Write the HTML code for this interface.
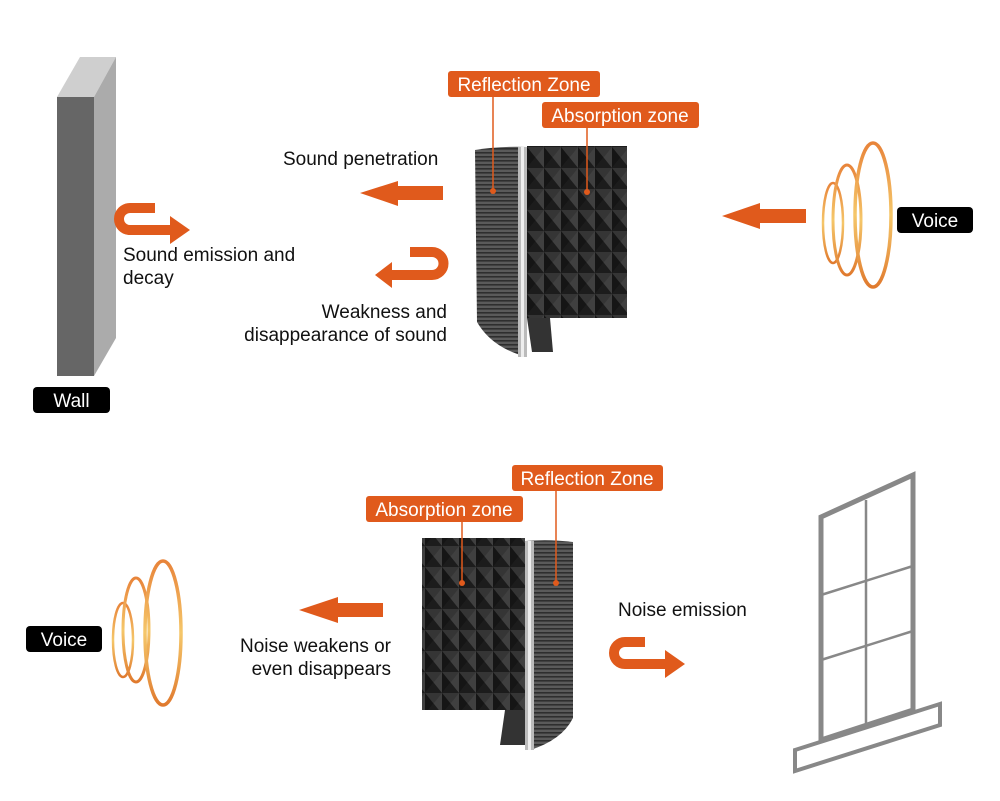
<!DOCTYPE html>
<html><head><meta charset="utf-8"><style>
html,body{margin:0;padding:0;background:#fff;}
svg{display:block;}
text{font-family:"Liberation Sans",Arial,sans-serif;}
</style></head><body>
<svg width="1000" height="801" viewBox="0 0 1000 801" xmlns="http://www.w3.org/2000/svg">
<defs>
<pattern id="foam" width="17" height="21" patternUnits="userSpaceOnUse">
<rect width="17" height="21" fill="#262626"/>
<polygon points="0,0 17,0 8.5,10.5" fill="#353535"/>
<polygon points="0,0 8.5,10.5 0,21" fill="#151515"/>
<polygon points="17,0 17,21 8.5,10.5" fill="#404040"/>
<polygon points="0,21 17,21 8.5,10.5" fill="#1c1c1c"/>
</pattern>
<pattern id="grill" width="4" height="4" patternUnits="userSpaceOnUse">
<rect width="4" height="4" fill="#5a5a5a"/>
<rect width="4" height="1.6" fill="#2e2e2e"/>
</pattern>
<linearGradient id="wv" x1="0" x2="0" y1="0" y2="1">
<stop offset="0" stop-color="#e8843a"/><stop offset="0.5" stop-color="#f5c76a"/><stop offset="1" stop-color="#e07a2e"/>
</linearGradient>
</defs>

<!-- Wall -->
<polygon points="57,97 80,57 116,57 94,97" fill="#cfcfcf"/>
<polygon points="94,97 116,57 116,338 94,376" fill="#ababab"/>
<rect x="57" y="97" width="37" height="279" fill="#666"/>
<rect x="33" y="387" width="77" height="26" rx="4" fill="#000"/>
<text x="71.5" y="407" font-size="19" fill="#fff" text-anchor="middle">Wall</text>

<!-- wall U arrow -->
<path d="M155,208 H130 A11,11 0 0 0 130,230 H172" fill="none" stroke="#e05a1c" stroke-width="10"/>
<polygon points="170,216 190,230 170,244" fill="#e05a1c"/>
<text x="123" y="261" font-size="19" fill="#111">Sound emission and</text>
<text x="123" y="284" font-size="19" fill="#111">decay</text>

<!-- top texts -->
<text x="283" y="165" font-size="19" fill="#111">Sound penetration</text>
<polygon points="360,193 398,181 398,186 443,186 443,200 398,200 398,206" fill="#e05a1c"/>
<path d="M410,252 H432 A11.5,11.5 0 0 1 432,275 H390" fill="none" stroke="#e05a1c" stroke-width="10"/>
<polygon points="392,262 375,275 392,288" fill="#e05a1c"/>
<text x="447" y="318" font-size="19" fill="#111" text-anchor="end">Weakness and</text>
<text x="447" y="341" font-size="19" fill="#111" text-anchor="end">disappearance of sound</text>

<!-- top device -->
<rect x="527" y="146" width="100" height="172" fill="url(#foam)"/>
<polygon points="527,318 550,318 553,352 532,352" fill="#333"/>
<path d="M475,150 Q500,146 527,147 L527,357 Q492,348 477,322 Z" fill="url(#grill)"/>
<rect x="518" y="147" width="9" height="210" fill="#bbb"/>
<rect x="521" y="147" width="3" height="210" fill="#eee"/>
<rect x="448" y="71" width="152" height="26" rx="3" fill="#e05a1c"/>
<text x="524" y="91" font-size="19" fill="#fff" text-anchor="middle">Reflection Zone</text>
<rect x="542" y="102" width="157" height="26" rx="3" fill="#e05a1c"/>
<text x="620" y="122" font-size="19" fill="#fff" text-anchor="middle">Absorption zone</text>
<line x1="493" y1="97" x2="493" y2="191" stroke="#e05a1c" stroke-width="1.5"/>
<circle cx="493" cy="191" r="3" fill="#e05a1c"/>
<line x1="587" y1="128" x2="587" y2="192" stroke="#e05a1c" stroke-width="1.5"/>
<circle cx="587" cy="192" r="3" fill="#e05a1c"/>

<!-- top voice -->
<polygon points="722,216 760,203 760,209 806,209 806,223 760,223 760,229" fill="#e05a1c"/>
<ellipse cx="833" cy="223" rx="10" ry="40" fill="none" stroke="url(#wv)" stroke-width="2.5"/>
<ellipse cx="847" cy="220" rx="14" ry="55" fill="none" stroke="url(#wv)" stroke-width="3"/>
<ellipse cx="873" cy="215" rx="18" ry="72" fill="none" stroke="url(#wv)" stroke-width="3.5"/>
<rect x="897" y="207" width="76" height="26" rx="4" fill="#000"/>
<text x="935" y="227" font-size="19" fill="#fff" text-anchor="middle">Voice</text>

<!-- bottom voice -->
<rect x="26" y="626" width="76" height="26" rx="4" fill="#000"/>
<text x="64" y="646" font-size="19" fill="#fff" text-anchor="middle">Voice</text>
<ellipse cx="123" cy="640" rx="10" ry="37" fill="none" stroke="url(#wv)" stroke-width="2.5"/>
<ellipse cx="136" cy="630" rx="13" ry="52" fill="none" stroke="url(#wv)" stroke-width="3"/>
<ellipse cx="163" cy="633" rx="18" ry="72" fill="none" stroke="url(#wv)" stroke-width="3.5"/>
<polygon points="299,610 338,597 338,603 383,603 383,617 338,617 338,623" fill="#e05a1c"/>
<text x="391" y="652" font-size="19" fill="#111" text-anchor="end">Noise weakens or</text>
<text x="391" y="675" font-size="19" fill="#111" text-anchor="end">even disappears</text>

<!-- bottom device -->
<rect x="422" y="538" width="103" height="172" fill="url(#foam)"/>
<polygon points="505,710 525,710 525,745 500,745" fill="#333"/>
<path d="M525,541 Q550,539 573,542 L573,718 Q562,740 530,750 L525,750 Z" fill="url(#grill)"/>
<rect x="525" y="541" width="9" height="209" fill="#bbb"/>
<rect x="528" y="541" width="3" height="209" fill="#eee"/>
<rect x="366" y="496" width="157" height="26" rx="3" fill="#e05a1c"/>
<text x="444" y="516" font-size="19" fill="#fff" text-anchor="middle">Absorption zone</text>
<rect x="512" y="465" width="151" height="26" rx="3" fill="#e05a1c"/>
<text x="587" y="485" font-size="19" fill="#fff" text-anchor="middle">Reflection Zone</text>
<line x1="462" y1="522" x2="462" y2="583" stroke="#e05a1c" stroke-width="1.5"/>
<circle cx="462" cy="583" r="3" fill="#e05a1c"/>
<line x1="556" y1="491" x2="556" y2="583" stroke="#e05a1c" stroke-width="1.5"/>
<circle cx="556" cy="583" r="3" fill="#e05a1c"/>

<text x="618" y="616" font-size="19" fill="#111">Noise emission</text>
<path d="M645,642 H625 A11,11 0 0 0 625,664 H667" fill="none" stroke="#e05a1c" stroke-width="10"/>
<polygon points="665,650 685,664 665,678" fill="#e05a1c"/>

<!-- window -->
<polygon points="821,517 913,475 913,710 821,740" fill="none" stroke="#888" stroke-width="5"/>
<line x1="866" y1="500" x2="866" y2="726" stroke="#888" stroke-width="2.5"/>
<line x1="821" y1="595" x2="913" y2="566" stroke="#888" stroke-width="2.5"/>
<line x1="821" y1="660" x2="913" y2="631" stroke="#888" stroke-width="2.5"/>
<polygon points="795,750 940,704 940,725 795,771" fill="none" stroke="#888" stroke-width="4"/>
</svg>
</body></html>
